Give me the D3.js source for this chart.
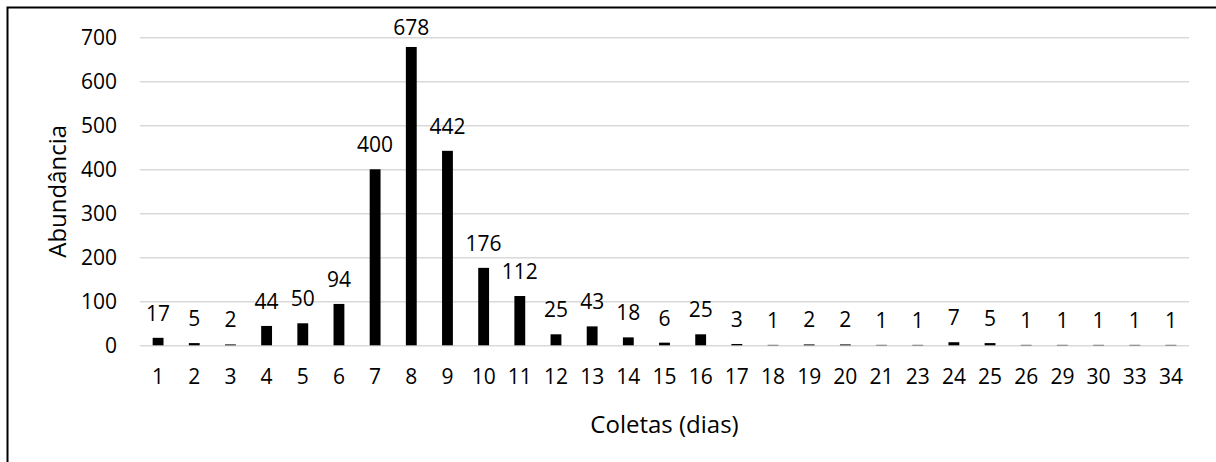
<!DOCTYPE html>
<html>
<head>
<meta charset="utf-8">
<script src="https://cdn.jsdelivr.net/npm/d3@7"></script>
<style>
  html, body { margin: 0; padding: 0; background: #fff; }
  svg { display: block; }
  text { font-family: "Open Sans", "Noto Sans", sans-serif; fill: #000; }
</style>
</head>
<body>
<svg id="chart" width="1216" height="462"></svg>
<script>
const categories = ["1","2","3","4","5","6","7","8","9","10","11","12","13","14","15","16","17","18","19","20","21","23","24","25","26","29","30","33","34"];
const values = [17,5,2,44,50,94,400,678,442,176,112,25,43,18,6,25,3,1,2,2,1,1,7,5,1,1,1,1,1];
const yTicks = [0,100,200,300,400,500,600,700];
const xTitle = "Coletas (dias)";
const yTitle = "Abundância";

const svg = d3.select("#chart");
const W = 1216, H = 462;
const plot = { left: 140, right: 1189, top: 37.3, bottom: 345.3 };

// outer frame
svg.append("rect")
  .attr("x", 7.5).attr("y", 7.5)
  .attr("width", W + 50).attr("height", H + 50)
  .attr("fill", "none").attr("stroke", "#000").attr("stroke-width", 2);

const x = d3.scaleBand().domain(categories)
  .range([plot.left, plot.right])
  .paddingInner(0.7).paddingOuter(0.35);
const y = d3.scaleLinear().domain([0, 700]).range([plot.bottom, plot.top]);

// gridlines
const grid = svg.append("g").attr("transform", `translate(${plot.left},0)`)
  .call(d3.axisLeft(y).tickValues(yTicks).tickSize(-(plot.right - plot.left)).tickFormat(""));
grid.select(".domain").remove();
grid.selectAll("line").attr("stroke", "#d9d9d9").attr("stroke-width", 1.5);

// y axis labels
const ya = svg.append("g").attr("transform", `translate(${plot.left},0)`)
  .call(d3.axisLeft(y).tickValues(yTicks).tickSize(0).tickPadding(23));
ya.select(".domain").remove();
ya.selectAll("text").attr("font-size", 21).attr("dy", "0.36em")
  .style("font-family", '"Open Sans", sans-serif').attr("fill", "#000");

// bars
svg.append("g").selectAll("rect").data(values).join("rect")
  .attr("x", (d, i) => x(categories[i]))
  .attr("width", x.bandwidth())
  .attr("y", d => y(d))
  .attr("height", d => y(0) - y(d))
  .attr("fill", "#000");

// x axis
const xa = svg.append("g").attr("transform", `translate(0,${plot.bottom})`)
  .call(d3.axisBottom(x).tickSize(0).tickPadding(0));
xa.select(".domain").remove();
xa.selectAll("text").attr("font-size", 21).attr("y", 39).attr("dy", 0)
  .style("font-family", '"Open Sans", sans-serif').attr("fill", "#000");

// data labels
svg.append("g").selectAll("text").data(values).join("text")
  .attr("x", (d, i) => x(categories[i]) + x.bandwidth() / 2)
  .attr("y", d => Math.max(y(d) - 17, 35))
  .attr("text-anchor", "middle")
  .attr("font-size", 21)
  .text(d => d);

// axis titles
svg.append("text")
  .attr("x", (plot.left + plot.right) / 2).attr("y", 433)
  .attr("text-anchor", "middle").attr("font-size", 24)
  .text(xTitle);
svg.append("text")
  .attr("transform", `translate(66,${(plot.top + plot.bottom) / 2}) rotate(-90)`)
  .attr("text-anchor", "middle").attr("font-size", 24)
  .text(yTitle);
</script>
</body>
</html>
